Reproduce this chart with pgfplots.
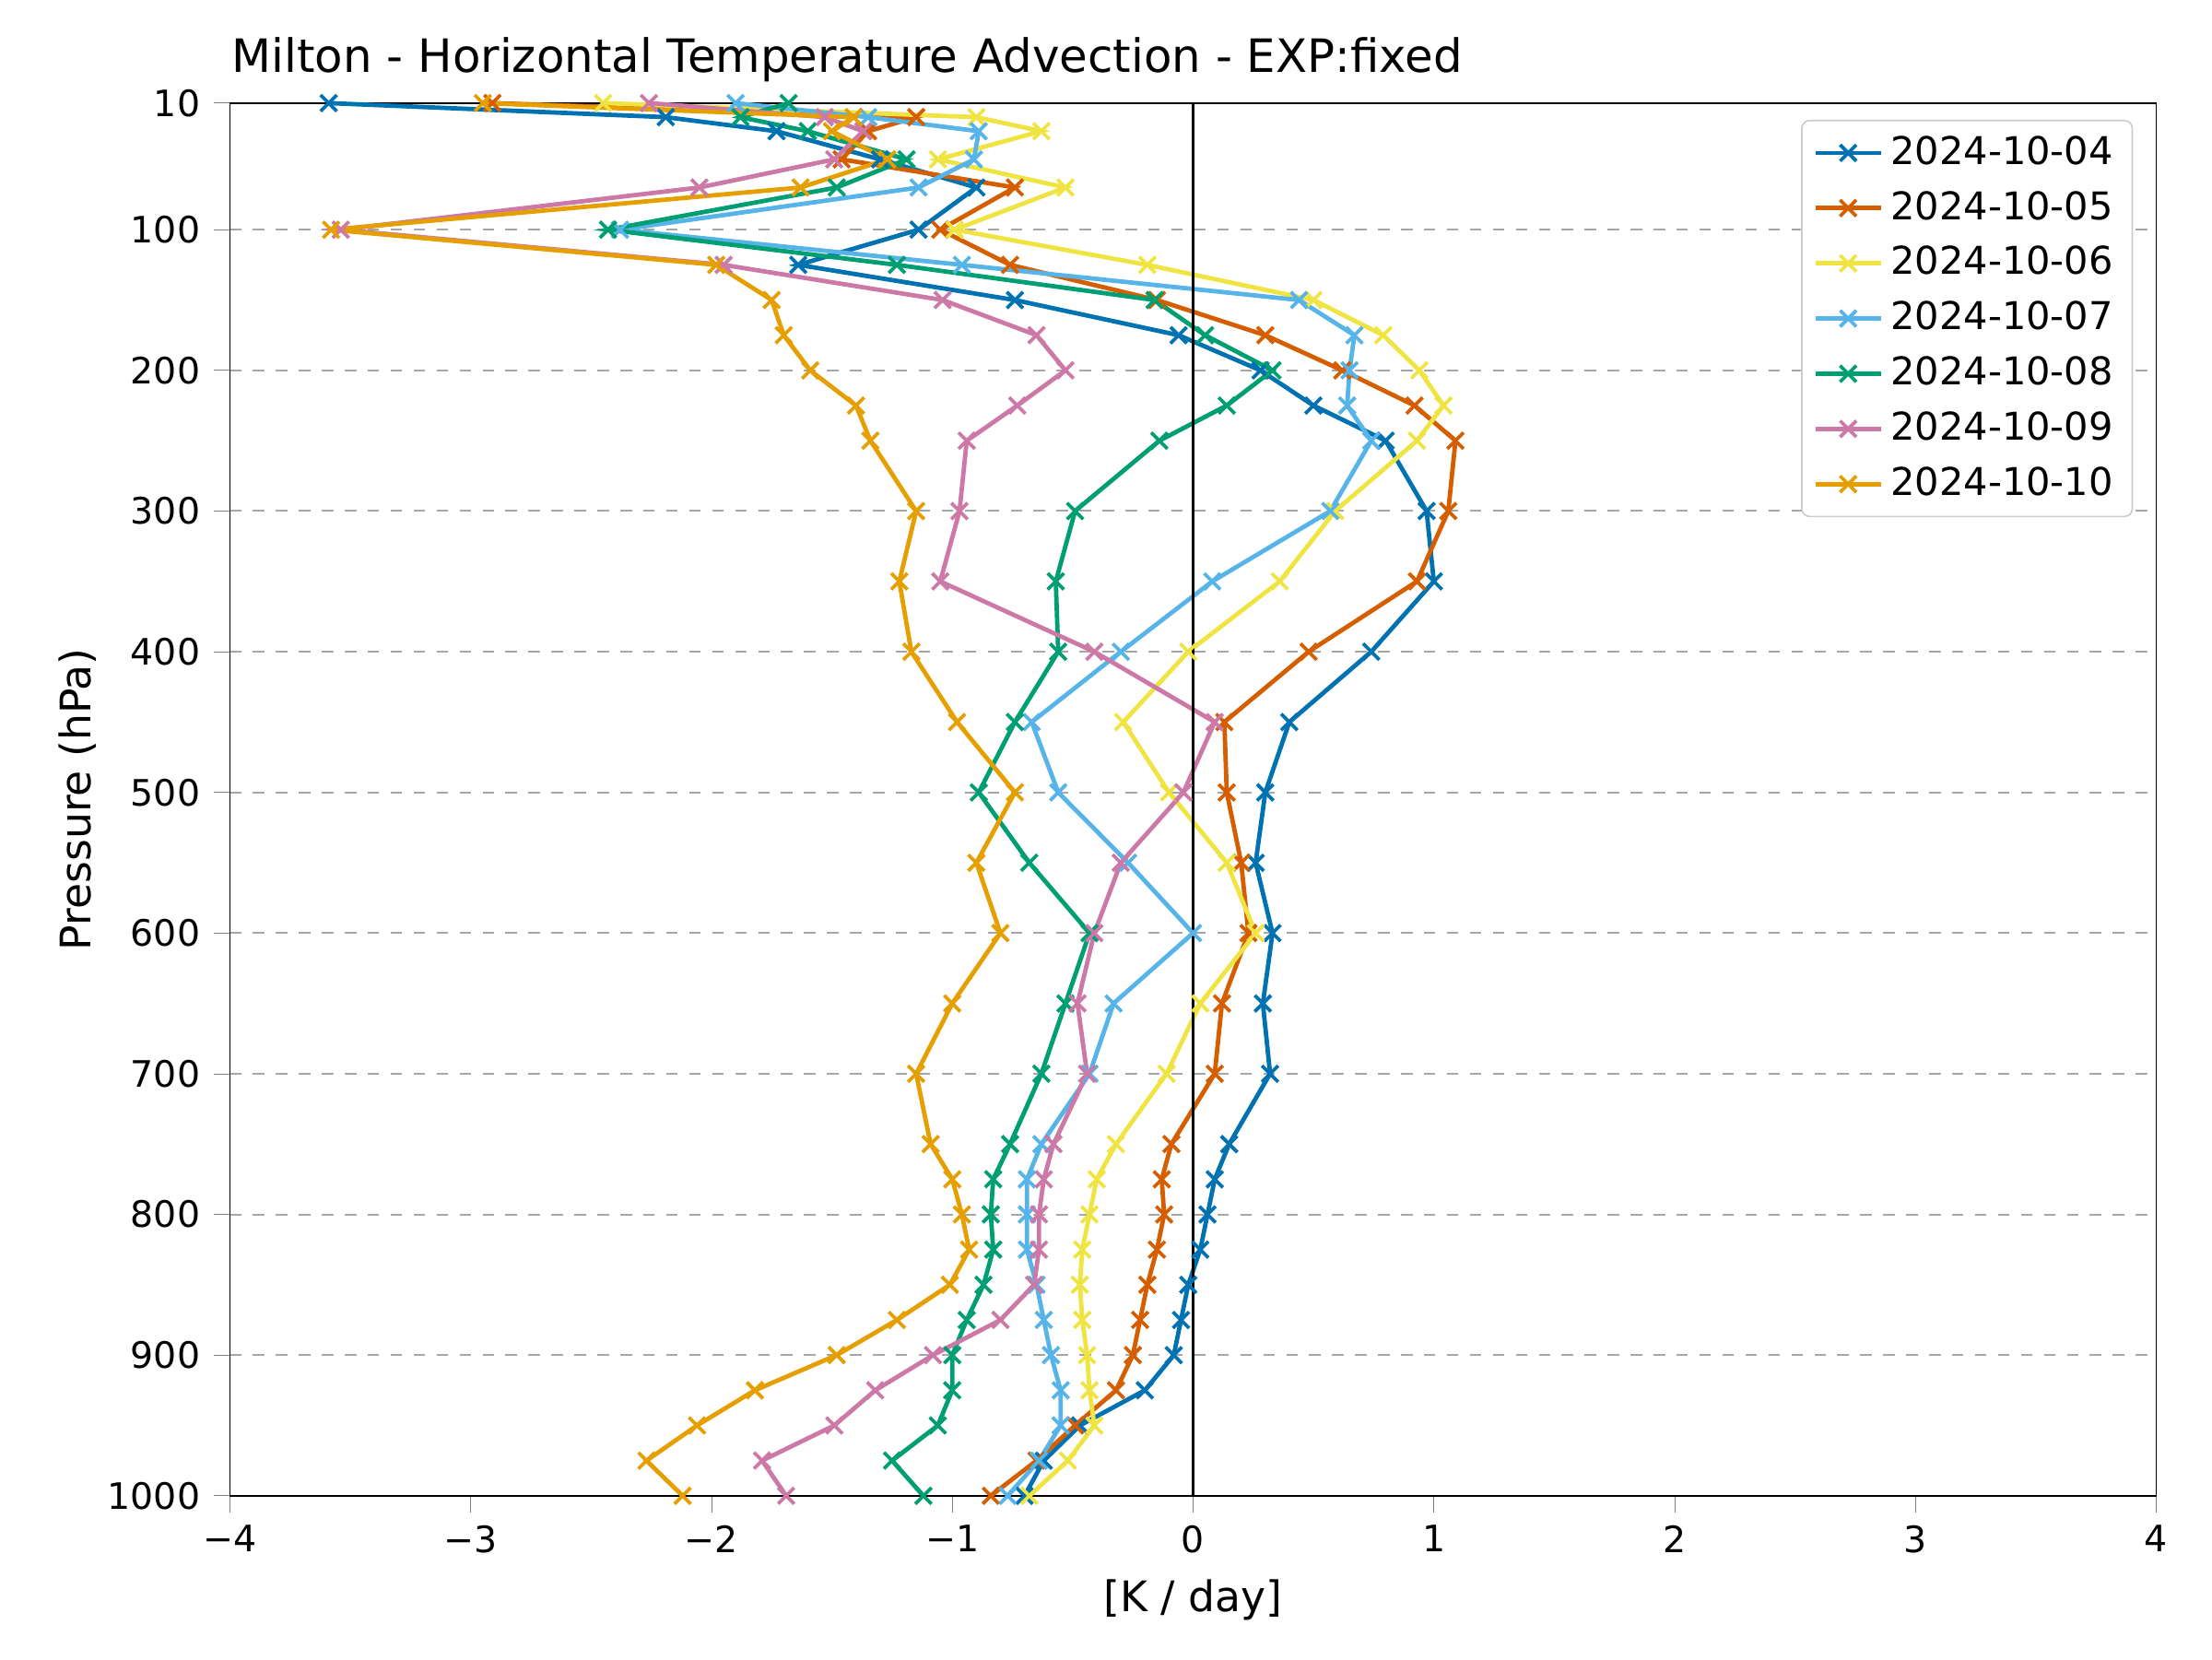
\documentclass[border=0pt]{standalone}
\usepackage{pgfplots}
\pgfplotsset{compat=1.18}
\usepackage{fontspec}
\setmainfont{DejaVu Sans}
\definecolor{c1}{HTML}{0072B2}
\definecolor{c2}{HTML}{D55E00}
\definecolor{c3}{HTML}{F0E442}
\definecolor{c4}{HTML}{56B4E9}
\definecolor{c5}{HTML}{009E73}
\definecolor{c6}{HTML}{CC79A7}
\definecolor{c7}{HTML}{E69F00}
\begin{document}
\begin{tikzpicture}
\begin{axis}[
  scale only axis, width=17.69cm, height=12.79cm,
  xmin=-4, xmax=4, ymin=10, ymax=1000, y dir=reverse,
  xtick={-4,...,4}, xticklabels={−4,−3,−2,−1,0,1,2,3,4},
  ytick={10,100,200,300,400,500,600,700,800,900,1000},
  yticklabels={10,100,200,300,400,500,600,700,800,900,1000},
  ymajorgrids, major grid style={dashed, gray!70, line width=0.5pt},
  tick align=outside, xtick pos=bottom, ytick pos=left,
  tick label style={font=\fontsize{9.5}{11}\selectfont},
  xlabel={[K / day]}, ylabel={Pressure (hPa)},
  ylabel style={yshift=-4pt},
  label style={font=\fontsize{11}{13}\selectfont},
  title={Milton - Horizontal Temperature Advection - EXP:fixed},
  title style={font=\fontsize{12}{14}\selectfont, anchor=south west, at={(rel axis cs:0,1)}, yshift=-4pt, xshift=-3pt},
  legend style={at={(0.988,0.988)}, anchor=north east, font=\fontsize{10}{12}\selectfont, draw=gray!40, rounded corners=2pt, row sep=1.5pt},
  legend cell align=left,
  every axis plot/.append style={line width=1.15pt, mark=x, mark size=3pt, mark options={line width=0.9pt}},
  clip=false,
]
\addplot[c1] coordinates {(-3.59,10)(-2.19,20)(-1.73,30)(-1.30,50)(-0.90,70)(-1.14,100)(-1.64,125)(-0.74,150)(-0.06,175)(0.28,200)(0.50,225)(0.80,250)(0.97,300)(1.00,350)(0.74,400)(0.40,450)(0.30,500)(0.26,550)(0.33,600)(0.29,650)(0.32,700)(0.15,750)(0.09,775)(0.06,800)(0.03,825)(-0.02,850)(-0.05,875)(-0.08,900)(-0.20,925)(-0.47,950)(-0.62,975)(-0.70,1000)};
\addlegendentry{2024-10-04}
\addplot[c2] coordinates {(-2.91,10)(-1.15,20)(-1.35,30)(-1.46,50)(-0.74,70)(-1.05,100)(-0.76,125)(-0.15,150)(0.30,175)(0.62,200)(0.92,225)(1.09,250)(1.06,300)(0.93,350)(0.48,400)(0.13,450)(0.14,500)(0.20,550)(0.23,600)(0.12,650)(0.09,700)(-0.09,750)(-0.13,775)(-0.12,800)(-0.15,825)(-0.19,850)(-0.22,875)(-0.25,900)(-0.32,925)(-0.49,950)(-0.65,975)(-0.84,1000)};
\addlegendentry{2024-10-05}
\addplot[c3] coordinates {(-2.45,10)(-0.90,20)(-0.63,30)(-1.06,50)(-0.53,70)(-0.99,100)(-0.19,125)(0.50,150)(0.79,175)(0.94,200)(1.04,225)(0.93,250)(0.59,300)(0.36,350)(-0.02,400)(-0.29,450)(-0.10,500)(0.14,550)(0.26,600)(0.03,650)(-0.11,700)(-0.32,750)(-0.40,775)(-0.43,800)(-0.46,825)(-0.47,850)(-0.46,875)(-0.44,900)(-0.43,925)(-0.41,950)(-0.52,975)(-0.68,1000)};
\addlegendentry{2024-10-06}
\addplot[c4] coordinates {(-1.90,10)(-1.35,20)(-0.89,30)(-0.91,50)(-1.14,70)(-2.38,100)(-0.96,125)(0.44,150)(0.67,175)(0.65,200)(0.64,225)(0.74,250)(0.57,300)(0.08,350)(-0.30,400)(-0.67,450)(-0.56,500)(-0.27,550)(0.00,600)(-0.33,650)(-0.43,700)(-0.63,750)(-0.69,775)(-0.69,800)(-0.69,825)(-0.65,850)(-0.62,875)(-0.59,900)(-0.55,925)(-0.55,950)(-0.64,975)(-0.77,1000)};
\addlegendentry{2024-10-07}
\addplot[c5] coordinates {(-1.68,10)(-1.88,20)(-1.60,30)(-1.19,50)(-1.48,70)(-2.43,100)(-1.23,125)(-0.16,150)(0.05,175)(0.33,200)(0.14,225)(-0.14,250)(-0.49,300)(-0.57,350)(-0.56,400)(-0.74,450)(-0.89,500)(-0.68,550)(-0.43,600)(-0.53,650)(-0.63,700)(-0.76,750)(-0.83,775)(-0.84,800)(-0.83,825)(-0.87,850)(-0.94,875)(-1.00,900)(-1.00,925)(-1.06,950)(-1.25,975)(-1.12,1000)};
\addlegendentry{2024-10-08}
\addplot[c6] coordinates {(-2.26,10)(-1.53,20)(-1.37,30)(-1.49,50)(-2.05,70)(-3.54,100)(-1.95,125)(-1.04,150)(-0.65,175)(-0.53,200)(-0.73,225)(-0.94,250)(-0.97,300)(-1.05,350)(-0.41,400)(0.09,450)(-0.04,500)(-0.30,550)(-0.41,600)(-0.48,650)(-0.44,700)(-0.58,750)(-0.62,775)(-0.64,800)(-0.64,825)(-0.66,850)(-0.80,875)(-1.08,900)(-1.32,925)(-1.49,950)(-1.79,975)(-1.69,1000)};
\addlegendentry{2024-10-09}
\addplot[c7] coordinates {(-2.95,10)(-1.41,20)(-1.50,30)(-1.27,50)(-1.63,70)(-3.58,100)(-1.98,125)(-1.75,150)(-1.70,175)(-1.59,200)(-1.40,225)(-1.34,250)(-1.15,300)(-1.22,350)(-1.17,400)(-0.98,450)(-0.74,500)(-0.90,550)(-0.80,600)(-1.00,650)(-1.15,700)(-1.09,750)(-1.00,775)(-0.96,800)(-0.93,825)(-1.01,850)(-1.23,875)(-1.48,900)(-1.82,925)(-2.06,950)(-2.27,975)(-2.12,1000)};
\addlegendentry{2024-10-10}
\draw[black, line width=0.6pt] (axis cs:0,10) -- (axis cs:0,1000);
\path (rel axis cs:-0.1194,-0.1175) -- (rel axis cs:1.029,1.074);
\end{axis}
\end{tikzpicture}
\end{document}
